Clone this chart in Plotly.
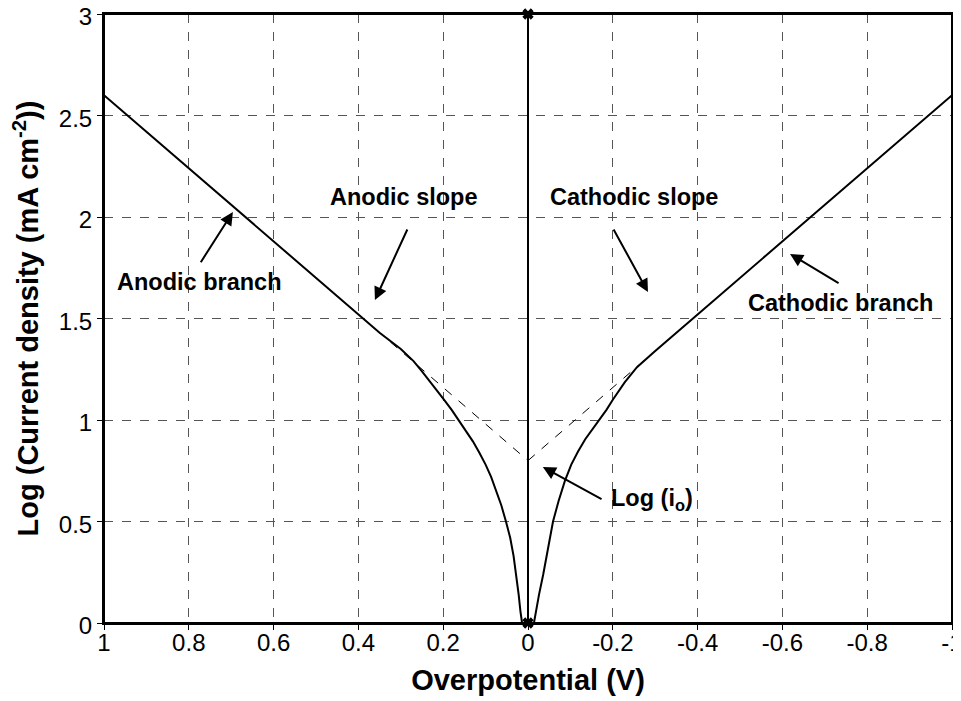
import plotly.graph_objects as go

# ---- data ----
anodic_eta = [1.0, 0.9, 0.8, 0.7, 0.6, 0.5, 0.4, 0.35, 0.3, 0.27, 0.25, 0.225, 0.2, 0.18, 0.164, 0.145,
              0.13, 0.115, 0.1, 0.087, 0.075, 0.063, 0.052, 0.042, 0.034, 0.027, 0.022, 0.018, 0.014]
anodic_log = [2.6, 2.42, 2.24, 2.06, 1.88, 1.70, 1.52, 1.43, 1.35, 1.29, 1.24, 1.175, 1.105, 1.05, 1.0, 0.945,
              0.895, 0.84, 0.78, 0.72, 0.65, 0.58, 0.5, 0.42, 0.33, 0.23, 0.14, 0.06, 0.0]

cathodic_eta = [-0.014, -0.019, -0.026, -0.036, -0.047, -0.059, -0.072, -0.087, -0.102, -0.118, -0.135,
                -0.152, -0.169, -0.185, -0.2, -0.228, -0.257, -0.3, -0.4, -0.5, -0.6, -0.7, -0.8, -0.9, -1.0]
cathodic_log = [0.0, 0.06, 0.14, 0.24, 0.37, 0.5, 0.6, 0.7, 0.78, 0.845, 0.905,
                0.955, 1.0, 1.05, 1.1, 1.185, 1.26, 1.34, 1.52, 1.70, 1.88, 2.06, 2.24, 2.42, 2.6]

anodic_tafel_eta = [1.0, 0.0]
anodic_tafel_log = [2.6, 0.8]
cathodic_tafel_eta = [0.0, -1.0]
cathodic_tafel_log = [0.8, 2.6]

zero_eta = [0.0, 0.0]
zero_log = [0.0, 3.0]

x_ticks = [1, 0.8, 0.6, 0.4, 0.2, 0, -0.2, -0.4, -0.6, -0.8, -1]
x_tick_labels = ["1", "0.8", "0.6", "0.4", "0.2", "0", "-0.2", "-0.4", "-0.6", "-0.8", "-1"]
y_ticks = [0, 0.5, 1, 1.5, 2, 2.5, 3]
y_tick_labels = ["0", "0.5", "1", "1.5", "2", "2.5", "3"]

# annotations: (text, text_x, text_y, tail_x, tail_y, head_x, head_y)
labels = [
    ("Anodic branch", 0.774, 1.68, 0.774, 1.77, 0.696, 2.025),
    ("Anodic slope", 0.292, 2.10, 0.283, 1.946, 0.361, 1.591),
    ("Cathodic slope", -0.25, 2.10, -0.2, 1.946, -0.283, 1.63),
    ("Cathodic branch", -0.738, 1.576, -0.736, 1.67, -0.618, 1.818),
    ("Log (i<sub>o</sub>)", -0.292, 0.606, -0.177, 0.606, -0.035, 0.768),
]

FONT = "Liberation Sans, Arial, sans-serif"

fig = go.Figure()
fig.add_trace(go.Scatter(x=anodic_tafel_eta, y=anodic_tafel_log, mode="lines",
                         line=dict(color="black", width=1, dash="dash"), showlegend=False))
fig.add_trace(go.Scatter(x=cathodic_tafel_eta, y=cathodic_tafel_log, mode="lines",
                         line=dict(color="black", width=1, dash="dash"), showlegend=False))
fig.add_trace(go.Scatter(x=anodic_eta, y=anodic_log, mode="lines",
                         line=dict(color="black", width=2), showlegend=False))
fig.add_trace(go.Scatter(x=cathodic_eta, y=cathodic_log, mode="lines",
                         line=dict(color="black", width=2), showlegend=False))
fig.add_trace(go.Scatter(x=zero_eta, y=zero_log, mode="lines+markers",
                         line=dict(color="black", width=2),
                         marker=dict(symbol="x", size=10, color="black"),
                         showlegend=False, cliponaxis=False))

annotations = []
for text, tx, ty, ax_, ay_, hx, hy in labels:
    annotations.append(dict(x=hx, y=hy, ax=ax_, ay=ay_, xref="x", yref="y", axref="x", ayref="y",
                            text="", showarrow=True, arrowhead=2, arrowsize=1.3, arrowwidth=2,
                            arrowcolor="black"))
    annotations.append(dict(x=tx, y=ty, xref="x", yref="y", text=text, showarrow=False,
                            font=dict(family=FONT, size=23.5, color="black", weight="bold"),
                            bgcolor="rgba(0,0,0,0)"))

fig.update_layout(
    width=961, height=701,
    margin=dict(l=96, r=17, t=6, b=86),
    paper_bgcolor="white", plot_bgcolor="white",
    font=dict(family=FONT, size=24, color="black"),
    annotations=annotations,
    shapes=[dict(type="rect", xref="paper", yref="paper", x0=0, x1=1, y0=0, y1=1,
                 line=dict(color="black", width=2), fillcolor="rgba(0,0,0,0)", layer="above")],
    showlegend=False,
)
fig.update_xaxes(range=[1, -1], tickvals=x_ticks, ticktext=x_tick_labels, automargin=False,
                 showgrid=True, gridcolor="#555555", griddash="dash", gridwidth=1,
                 showline=True, linecolor="black", linewidth=2, mirror=True,
                 ticks="outside", ticklen=5, tickcolor="black", zeroline=False,
                 ticklabelstandoff=-8, ticklabeloverflow="allow",
                 title=dict(text="<b>Overpotential (V)</b>", font=dict(size=29), standoff=15))
fig.update_yaxes(range=[0, 3], tickvals=y_ticks, ticktext=y_tick_labels, automargin=False,
                 showgrid=True, gridcolor="#555555", griddash="dash", gridwidth=1,
                 showline=True, linecolor="black", linewidth=2, mirror=True,
                 ticks="outside", ticklen=5, tickcolor="black", zeroline=False,
                 ticklabeloverflow="allow", ticklabelshift=3,
                 title=dict(text="<b>Log (Current density (mA cm<sup>-2</sup>))</b>", font=dict(size=29), standoff=14))

fig.write_html("out.html")
